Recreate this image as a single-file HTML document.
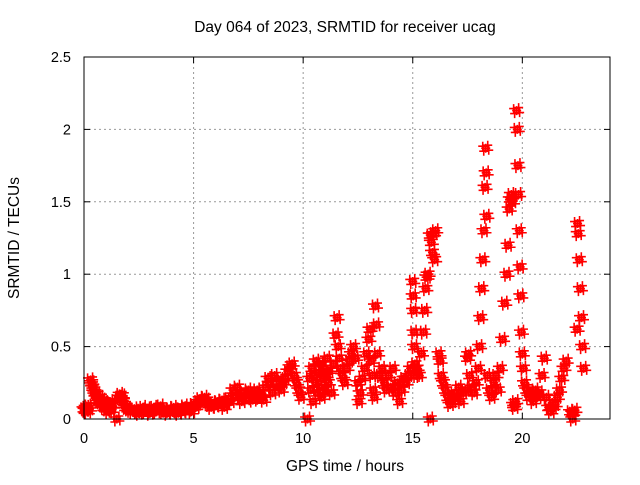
<!DOCTYPE html>
<html><head><meta charset="utf-8"><style>
body{margin:0;background:#fff;}
svg text{font-family:"Liberation Sans",sans-serif;fill:#000;}
</style></head><body>
<svg id="chart" width="640" height="480" viewBox="0 0 640 480">
<text x="345" y="32" font-size="15.5" text-anchor="middle">Day 064 of 2023, SRMTID for receiver ucag</text>
<text x="345" y="471" font-size="15.5" text-anchor="middle">GPS time / hours</text>
<text transform="translate(19,238) rotate(-90)" font-size="15.5" text-anchor="middle">SRMTID / TECUs</text>
<g id="grid"></g>
<g id="ticks"></g>
<g id="marks"></g>
<rect x="84" y="57" width="526" height="362" fill="none" stroke="#000" stroke-width="1"/>
</svg>
<script>
const xTicks=[0,5,10,15,20];
const yTicks=[0,0.5,1,1.5,2,2.5];
const yTickLabels=["0","0.5","1","1.5","2","2.5"];
const times=[0,.05,.1,.15,.2,.25,.3,.35,.4,.45,.5,.55,.6,.65,.7,.75,.8,.85,.9,.95,1.0,1.05,1.1,1.15,1.2,1.25,1.3,
1.6,1.65,1.7,1.75,1.8,1.85,1.9,2.0,2.1,2.2,2.3,2.4,2.5,2.6,2.7,2.8,2.9,3.0,3.1,3.2,3.3,3.4,3.5,3.6,3.7,3.8,3.9,4.0,4.1,4.2,4.3,4.4,4.5,4.6,4.7,4.8,4.9,5.0,5.1,5.2,5.3,5.4,5.5,5.6,5.7,5.8,5.9,6.0,6.1,6.2,6.3,6.4,6.5,6.6,6.7,6.8,6.9,7.0,7.1,7.2,7.3,7.4,7.5,7.6,7.7,7.8,7.9,8.0,8.1,8.2,8.3,8.4,8.5,8.6,8.7,8.8,8.9,9.0,9.1,9.2,9.3,9.4,9.5,9.6,9.7,9.8,9.9,
10.3,10.35,10.4,10.45,10.5,10.55,10.6,10.65,10.7,10.75,10.8,10.85,10.9,10.95,11.0,11.05,11.1,11.15,11.2,11.3,11.4,11.5,11.55,11.6,11.65,11.7,11.8,11.9,12.0,12.1,12.2,12.3,12.4,12.5,12.55,12.6,12.7,12.8,12.9,13.0,13.05,13.1,13.15,13.2,13.25,13.3,13.35,13.4,13.5,13.6,13.7,13.8,13.9,14.0,14.1,14.2,14.3,14.4,14.5,14.6,14.7,14.8,14.9,
15.0,15.02,15.04,15.06,15.08,15.1,15.15,15.2,15.3,15.4,15.5,15.55,15.6,15.65,15.7,15.8,15.85,15.9,15.95,16.0,16.05,
16.2,16.25,16.3,16.4,16.5,16.6,16.7,16.8,16.9,17.0,17.1,17.2,17.3,17.4,17.5,17.55,17.6,17.7,17.8,17.9,18.0,18.05,18.1,18.15,18.2,18.25,18.3,18.33,18.35,18.38,18.4,18.5,18.6,18.7,18.8,18.9,19.0,19.1,19.2,19.3,19.35,19.4,19.45,19.5,19.55,19.6,19.65,19.7,19.74,19.77,19.8,19.83,19.86,19.9,19.93,19.96,20.0,20.05,20.1,20.2,20.3,20.4,20.5,20.6,20.7,20.8,20.9,21.0,21.1,21.2,21.3,21.4,21.5,21.6,21.7,21.8,21.9,22.0,22.2,22.3,22.4,22.5,22.52,22.55,22.6,22.65,22.7,22.75,22.8,
1.5,10.2,15.8,22.3];
const values=[.07,.06,.08,.05,.09,.07,.27,.25,.22,.2,.18,.15,.17,.13,.12,.15,.1,.13,.08,.11,.07,.1,.05,.08,.12,.06,.09,
.15,.17,.14,.16,.12,.1,.08,.07,.06,.05,.07,.05,.04,.06,.08,.05,.07,.04,.06,.08,.05,.07,.09,.05,.06,.04,.07,.05,.08,.06,.04,.07,.05,.09,.06,.08,.05,.1,.08,.12,.14,.11,.15,.13,.1,.08,.11,.09,.12,.1,.13,.08,.11,.14,.12,.2,.16,.22,.15,.12,.18,.14,.2,.17,.13,.16,.2,.15,.18,.13,.22,.28,.24,.18,.3,.22,.26,.2,.25,.28,.33,.36,.38,.3,.25,.2,.15,
.28,.2,.35,.12,.3,.25,.4,.18,.32,.22,.38,.15,.28,.35,.2,.3,.42,.25,.33,.18,.38,.58,.7,.5,.42,.35,.3,.25,.35,.4,.45,.5,.42,.25,.12,.18,.28,.35,.45,.55,.62,.4,.3,.2,.15,.78,.65,.45,.3,.35,.25,.2,.3,.22,.35,.18,.25,.12,.2,.28,.25,.3,.35,
.95,.85,.75,.6,.5,.38,.3,.35,.3,.45,.6,.75,.9,.98,1.0,1.27,1.22,1.15,1.28,1.1,1.3,
.45,.4,.3,.25,.2,.15,.1,.12,.18,.15,.22,.12,.18,.2,.42,.45,.3,.22,.18,.25,.35,.5,.7,.9,1.1,1.3,1.6,1.87,1.7,1.4,.3,.2,.15,.25,.3,.2,.35,.55,.8,1.0,1.2,1.45,1.52,1.55,1.5,.1,.08,.12,2.13,2.0,1.75,1.55,1.3,1.05,.85,.6,.45,.35,.25,.2,.15,.18,.12,.2,.15,.18,.3,.42,.15,.08,.05,.08,.1,.15,.2,.28,.35,.4,.05,.04,.06,.62,1.35,1.28,1.1,.9,.7,.5,.35,
0,0,0,0];
const X0=84,X1=610,Y0=419,Y1=57,XMAX=24,YMAX=2.5;
const xs=t=>X0+(X1-X0)*t/XMAX;
const ys=v=>Y0-(Y0-Y1)*v/YMAX;
const NS="http://www.w3.org/2000/svg";
const grid=document.getElementById('grid'),ticks=document.getElementById('ticks'),marks=document.getElementById('marks');
function mk(tag,attrs,parent){const e=document.createElementNS(NS,tag);for(const k in attrs)e.setAttribute(k,attrs[k]);parent.appendChild(e);return e;}
xTicks.forEach(t=>{
  const x=xs(t);
  if(t>0){const g=mk('line',{x1:x,x2:x,y1:Y1,y2:Y0,stroke:'#999','stroke-dasharray':'2,3'},grid);
  
  }
  mk('line',{x1:x,x2:x,y1:Y0,y2:Y0-6,stroke:'#000'},ticks);
  mk('line',{x1:x,x2:x,y1:Y1,y2:Y1+6,stroke:'#000'},ticks);
  const tx=mk('text',{x:x,y:Y0+24,'font-size':14.5,'text-anchor':'middle'},ticks);
  tx.textContent=t;
  
  
});
yTicks.forEach((v,i)=>{
  const y=ys(v);
  if(v>0&&v<YMAX){const g=mk('line',{x1:X0,x2:X1,y1:y,y2:y,stroke:'#999','stroke-dasharray':'2,3'},grid);
  
  }
  mk('line',{x1:X0,x2:X0+6,y1:y,y2:y,stroke:'#000'},ticks);
  mk('line',{x1:X1,x2:X1-6,y1:y,y2:y,stroke:'#000'},ticks);
  const tx=mk('text',{x:X0-13,y:y+5,'font-size':14.5,'text-anchor':'end'},ticks);
  tx.textContent=yTickLabels[i];
  
  
});
// visual thickening offsets (pixels) to mimic dense overplotted markers
const OFF=[[-3,-2],[0,0],[3,2],[-2,3],[2,-3]];
times.forEach((t,i)=>{
  const x=xs(t),y=ys(values[i]);
  let d='';
  OFF.forEach(o=>{const a=x+o[0],b=y+o[1];d+=`M${a-4.5},${b}H${a+4.5}M${a},${b-4.5}V${b+4.5}`;});
  const p=mk('path',{d:d,stroke:'#f00','stroke-width':1.6,fill:'none'},marks);
  
  
});
</script>
</body></html>
